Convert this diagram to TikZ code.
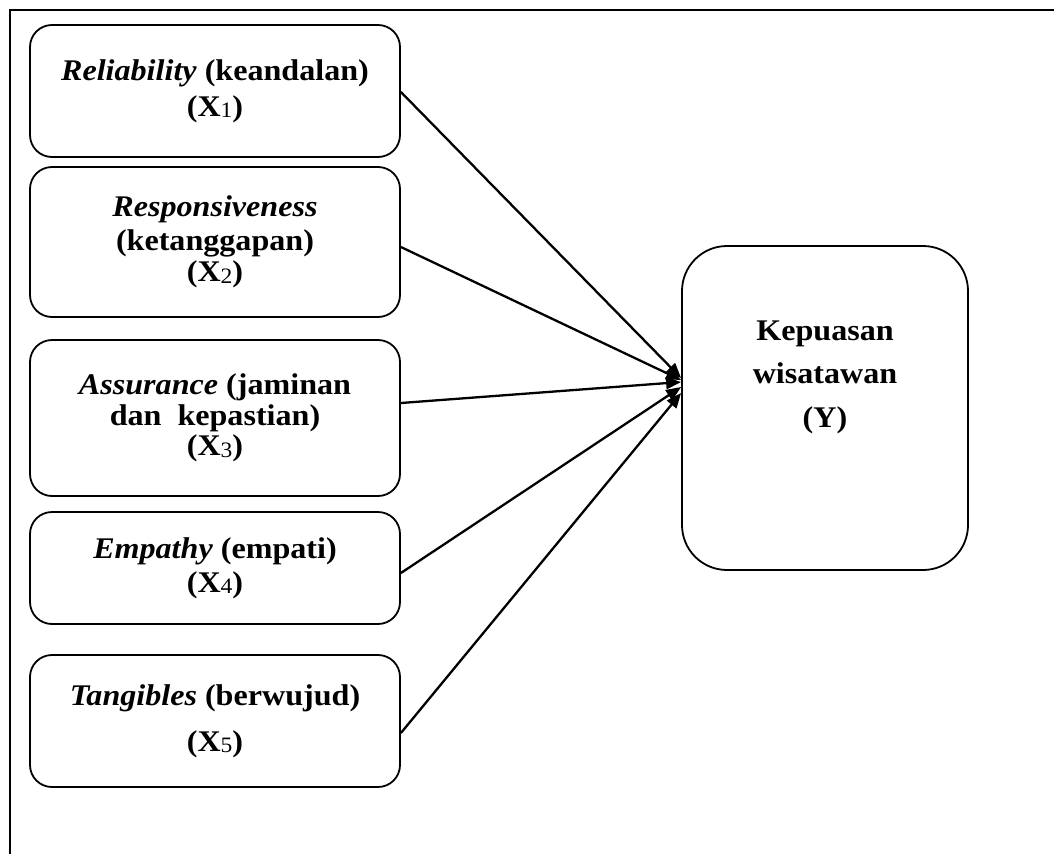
\documentclass[tikz,border=0pt]{standalone}
\usepackage{fontspec}
\setmainfont{Liberation Serif}[FakeStretch=1.07]
\usetikzlibrary{arrows.meta}
\newcommand\subd[1]{\raisebox{-1.5pt}{\fontsize{22}{22}\selectfont\mdseries #1}}
\begin{document}
\begin{tikzpicture}[x=1pt,y=-1pt,
  box/.style={draw, line width=1.8pt, rounded corners=22pt, minimum width=370pt,
    align=center, inner sep=0pt, font=\fontsize{30}{30}\selectfont\bfseries},
  link/.style={line width=2.3pt, -{Triangle[length=15pt,width=12pt]}},
  frame/.style={line width=2.6pt}]
\useasboundingbox (0,0) rectangle (1054,854);
\draw[frame] (10,854) coordinate (fb) -- (10,10) coordinate (fc) -- (1054,10) coordinate (fr);
\node[box, minimum height=132pt] (b1) at (215,91)
  {\textit{Reliability} (keandalan)\\[6pt](X\subd{1})};
\node[box, minimum height=150pt] (b2) at (215,242)
  {\textit{Responsiveness}\\[4pt](ketanggapan)\\[1pt](X\subd{2})};
\node[box, minimum height=156pt] (b3) at (215,418)
  {\textit{Assurance} (jaminan\\[1pt]dan\ \ kepastian)\\[0pt](X\subd{3})};
\node[box, minimum height=112pt] (b4) at (215,568)
  {\textit{Empathy} (empati)\\[4pt](X\subd{4})};
\node[box, minimum height=132pt] (b5) at (215,721)
  {\textit{Tangibles} (berwujud)\\[16pt](X\subd{5})};
\node[draw, line width=1.8pt, rounded corners=45pt, minimum width=286pt, minimum height=324pt,
  label={[name=ylab, yshift=31pt, align=center, font=\fontsize{30}{30}\selectfont\bfseries]center:Kepuasan\\[13pt]wisatawan\\[14pt](Y)}]
  (Y) at (825,408) {};
\draw[link] ([yshift=-1pt]b1.east) -- ([yshift=30pt]Y.west);
\draw[link] ([yshift=-5pt]b2.east) -- ([yshift=28pt]Y.west);
\draw[link] ([yshift=15pt]b3.east) -- ([yshift=26pt]Y.west);
\draw[link] ([yshift=-5pt]b4.east) -- ([yshift=21pt]Y.west);
\draw[link] ([yshift=-12pt]b5.east) -- ([yshift=15pt]Y.west);
\end{tikzpicture}
\end{document}
